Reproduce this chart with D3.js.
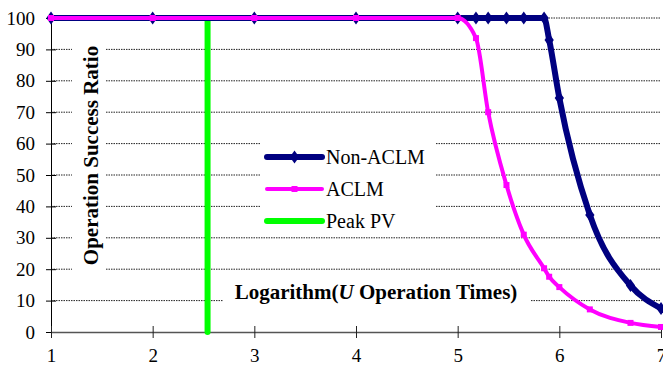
<!DOCTYPE html>
<html>
<head>
<meta charset="utf-8">
<script src="https://cdn.jsdelivr.net/npm/d3@7"></script>
<style>
  @font-face { font-family: 'ChartSerif'; src: local('Liberation Serif'), local('LiberationSerif'); font-weight: normal; font-style: normal; }
  @font-face { font-family: 'ChartSerif'; src: local('Liberation Serif Bold'), local('LiberationSerif-Bold'); font-weight: bold; font-style: normal; }
  @font-face { font-family: 'ChartSerif'; src: local('Liberation Serif Bold Italic'), local('LiberationSerif-BoldItalic'); font-weight: bold; font-style: italic; }
</style>
</head>
<body style="margin:0; background:#fff">
<script>
// log10(U) values shared by both series
const xLog = [1, 2, 3, 4, 5, 5.18, 5.3, 5.48, 5.65, 5.85, 5.9, 6, 6.3, 6.7, 7];
const nonAclm = [100, 100, 100, 100, 100, 100, 100, 100, 100, 100, 93, 74.5, 37.3, 14.8, 7.5];
const aclm = [100, 100, 100, 100, 100, 93.6, 70, 46.8, 31, 20.3, 17.6, 14.3, 7.2, 2.9, 1.6];
const peakPv = 2.54;
const yTicks = [0, 10, 20, 30, 40, 50, 60, 70, 80, 90, 100];
const xTicks = [1, 2, 3, 4, 5, 6, 7];
const legendNames = ['Non-ACLM', 'ACLM', 'Peak PV'];

const width = 663, height = 368;
const navy = '#000080', pink = '#ff00ff', green = '#00ff00';
const serif = "'Liberation Serif', 'ChartSerif', 'Times New Roman', Tinos";

const x = d3.scaleLinear().domain([1, 7]).range([51, 661]);
const y = d3.scaleLinear().domain([0, 100]).range([332, 18]);

const svg = d3.select('body').append('svg')
  .attr('width', width)
  .attr('height', height)
  .attr('font-family', serif)
  .style('display', 'block');

// gridlines
svg.append('g')
  .selectAll('line')
  .data(yTicks.slice(1))
  .join('line')
  .attr('x1', x(1)).attr('x2', x(7))
  .attr('y1', d => y(d)).attr('y2', d => y(d))
  .attr('stroke', '#222')
  .attr('stroke-width', 1)
  .attr('stroke-dasharray', '1.5,1');

// white boxes behind the axis titles and the legend
svg.append('rect').attr('x', 72).attr('y', 44).attr('width', 34).attr('height', 232).attr('fill', '#fff');
svg.append('rect').attr('x', 223).attr('y', 280).attr('width', 307).attr('height', 32).attr('fill', '#fff');
svg.append('rect').attr('x', 260).attr('y', 128).attr('width', 175).attr('height', 108.5).attr('fill', '#fff');

// axes
const yAxis = d3.axisLeft(y).tickValues(yTicks).tickFormat(d3.format('d'))
  .tickSizeInner(5).tickSizeOuter(0).tickPadding(11);
const gy = svg.append('g').attr('transform', 'translate(' + x(1) + ',0)').call(yAxis)
  .attr('font-family', serif);
gy.selectAll('.tick line').attr('x1', 5);
gy.selectAll('text').attr('font-family', serif).attr('font-size', 19).attr('fill', '#000');
gy.select('.domain').attr('stroke', '#000');

const xAxis = d3.axisBottom(x).tickValues(xTicks).tickFormat(d3.format('d'))
  .tickSizeInner(6).tickSizeOuter(0).tickPadding(11);
const gx = svg.append('g').attr('transform', 'translate(0,' + y(0) + ')').call(xAxis)
  .attr('font-family', serif);
gx.selectAll('.tick line').attr('y1', -6).attr('stroke', '#222');
gx.selectAll('text').attr('font-family', serif).attr('font-size', 19).attr('fill', '#000');
gx.select('.domain').attr('stroke', '#555').attr('stroke-width', 1.5);

// axis titles
svg.append('text')
  .attr('transform', 'translate(98,155.5) rotate(-90)')
  .attr('text-anchor', 'middle')
  .attr('font-family', serif)
  .attr('font-size', 21)
  .attr('font-weight', 'bold')
  .text('Operation Success Ratio');

const xt = svg.append('text')
  .attr('x', 376).attr('y', 299)
  .attr('text-anchor', 'middle')
  .attr('font-family', serif)
  .attr('font-size', 21)
  .attr('font-weight', 'bold');
xt.append('tspan').text('Logarithm(');
xt.append('tspan').attr('font-style', 'italic').text('U');
xt.append('tspan').text(' Operation Times)');

// peak PV vertical line
svg.append('line')
  .attr('x1', x(peakPv)).attr('x2', x(peakPv))
  .attr('y1', y(100)).attr('y2', y(0))
  .attr('stroke', green)
  .attr('stroke-width', 6)
  .attr('stroke-linecap', 'round');

const line = d3.line()
  .x(d => x(d[0]))
  .y(d => y(d[1]))
  .curve(d3.curveMonotoneX);

const navyPts = xLog.map((v, i) => [v, nonAclm[i]]);
const pinkPts = xLog.map((v, i) => [v, aclm[i]]);

svg.append('path')
  .datum(navyPts)
  .attr('d', line)
  .attr('fill', 'none')
  .attr('stroke', navy)
  .attr('stroke-width', 6)
  .attr('stroke-linejoin', 'round');

const diamond = d3.symbol().type(d3.symbolDiamond).size(48);
svg.append('g')
  .selectAll('path')
  .data(navyPts)
  .join('path')
  .attr('transform', d => 'translate(' + x(d[0]) + ',' + y(d[1]) + ') scale(1.25,1)')
  .attr('d', diamond)
  .attr('fill', navy);

svg.append('path')
  .datum(pinkPts)
  .attr('d', line)
  .attr('fill', 'none')
  .attr('stroke', pink)
  .attr('stroke-width', 4)
  .attr('stroke-linejoin', 'round');

svg.append('g')
  .selectAll('rect')
  .data(pinkPts)
  .join('rect')
  .attr('x', d => x(d[0]) - 3)
  .attr('y', d => y(d[1]) - 3)
  .attr('width', 6)
  .attr('height', 6)
  .attr('fill', pink);

// legend
const legendColors = [navy, pink, green];
const legendWidths = [6, 4, 6];
const lg = svg.append('g');
legendNames.forEach((name, i) => {
  const ly = 157 + i * 32;
  lg.append('line')
    .attr('x1', 267).attr('x2', 322)
    .attr('y1', ly).attr('y2', ly)
    .attr('stroke', legendColors[i])
    .attr('stroke-width', legendWidths[i])
    .attr('stroke-linecap', 'round');
  if (i === 0) {
    lg.append('path')
      .attr('transform', 'translate(294.5,' + ly + ') scale(1.25,1)')
      .attr('d', diamond)
      .attr('fill', navy);
  } else if (i === 1) {
    lg.append('rect')
      .attr('x', 291.5).attr('y', ly - 3)
      .attr('width', 6).attr('height', 6)
      .attr('fill', pink);
  }
  lg.append('text')
    .attr('x', 326).attr('y', ly + 7)
    .attr('font-family', serif)
    .attr('font-size', 20)
    .text(name);
});
</script>
</body>
</html>
